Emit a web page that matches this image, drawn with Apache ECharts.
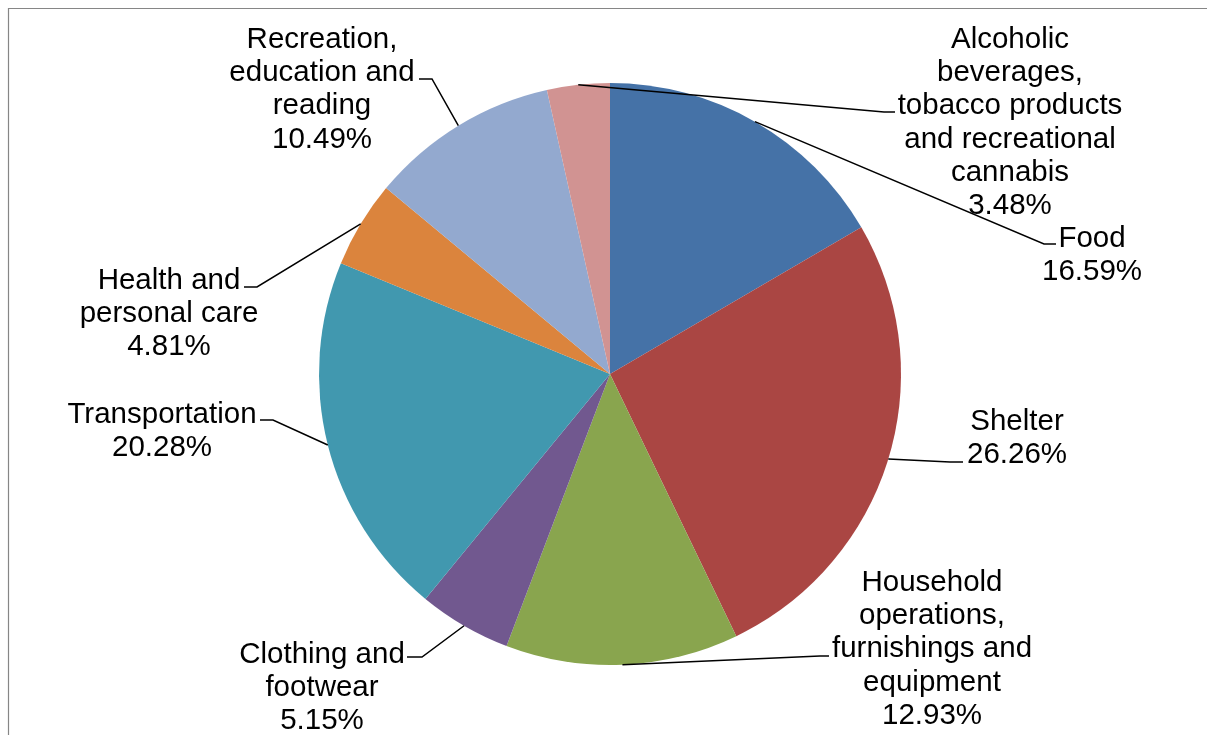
<!DOCTYPE html>
<html>
<head>
<meta charset="utf-8">
<script src="https://cdn.jsdelivr.net/npm/echarts@6/dist/echarts.min.js"></script>
<style>
html,body{margin:0;padding:0;background:#fff;}
#chart{width:1207px;height:735px;}
</style>
</head>
<body>
<div id="chart"></div>
<script>
// ---- data ----
const categories = [
  'Food',
  'Shelter',
  'Household\noperations,\nfurnishings and\nequipment',
  'Clothing and\nfootwear',
  'Transportation',
  'Health and\npersonal care',
  'Recreation,\neducation and\nreading',
  'Alcoholic\nbeverages,\ntobacco products\nand recreational\ncannabis'
];
const shares = [16.59, 26.26, 12.93, 5.15, 20.28, 4.81, 10.49, 3.48];
const colors = ['#4572A7', '#AA4643', '#89A54E', '#71588F', '#4198AF', '#DB843D', '#93A9CF', '#D19392'];

// ---- label placement (label centre x, label top y, elbow x, line y, line end x) ----
const labelPlacement = [
  [1092, 222, 1044, 244, 1056],
  [1017, 405, 950, 462, 963],
  [932, 566, 820, 656, 829],
  [322, 638, 422, 657, 407],
  [162, 398, 273, 420, 260],
  [169, 264, 257, 287, 244],
  [322, 23, 432, 79, 419],
  [1010, 23, 884, 112, 895]
];

const pieCenter = [610, 374];
const pieRadius = 291;

const chart = echarts.init(document.getElementById('chart'));
const option = {
  animation: false,
  backgroundColor: '#ffffff',
  graphic: [{
    type: 'rect',
    shape: {x: 8.5, y: 8.5, width: 1300, height: 800},
    style: {fill: null, stroke: '#868686', lineWidth: 1.2},
    silent: true
  }],
  series: [{
    // coloured slices
    type: 'pie',
    z: 2,
    center: pieCenter,
    radius: pieRadius,
    startAngle: 90,
    clockwise: true,
    silent: true,
    itemStyle: {borderWidth: 0},
    label: {show: false},
    labelLine: {show: false},
    data: categories.map((c, i) => ({name: c, value: shares[i], itemStyle: {color: colors[i]}}))
  }, {
    // labels and leader lines drawn on top of every slice
    type: 'pie',
    z: 5,
    center: pieCenter,
    radius: pieRadius,
    startAngle: 90,
    clockwise: true,
    silent: true,
    avoidLabelOverlap: false,
    itemStyle: {color: 'rgba(0,0,0,0)', borderWidth: 0},
    label: {
      show: true,
      position: 'outside',
      formatter: p => p.name + '\n' + p.value.toFixed(2) + '%',
      fontFamily: 'Liberation Sans, Arial, sans-serif',
      fontSize: 29.5,
      lineHeight: 33.3,
      color: '#000',
      align: 'center'
    },
    labelLine: {
      show: true,
      smooth: false,
      length: 20,
      length2: 10,
      lineStyle: {color: '#000', width: 1.5}
    },
    labelLayout: function (params) {
      const pl = labelPlacement[params.dataIndex];
      const res = {x: pl[0], y: pl[1], align: 'center', verticalAlign: 'top'};
      const pts = params.labelLinePoints;
      if (pts && pts.length) {
        res.labelLinePoints = [pts[0], [pl[2], pl[3]], [pl[4], pl[3]]];
      }
      return res;
    },
    data: categories.map((c, i) => ({name: c, value: shares[i]}))
  }]
};
chart.setOption(option);
</script>
</body>
</html>
